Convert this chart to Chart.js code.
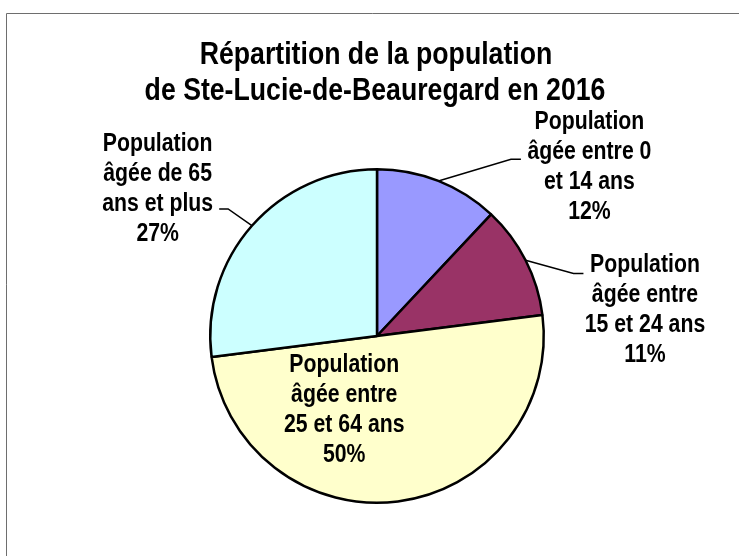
<!DOCTYPE html>
<html>
<head>
<meta charset="utf-8">
<script src="https://cdn.jsdelivr.net/npm/chart.js@4/dist/chart.umd.min.js"></script>
<style>
  html, body { margin: 0; padding: 0; background: #fff; }
  #wrap { width: 739px; height: 556px; position: relative; }
</style>
</head>
<body>
<div id="wrap"><canvas id="c" width="739" height="556"></canvas></div>
<script>
// ---- data ----
const titleLines = ["Répartition de la population", "de Ste-Lucie-de-Beauregard en 2016"];
const categories = [
  ["Population", "âgée entre 0", "et 14 ans"],
  ["Population", "âgée entre", "15 et 24 ans"],
  ["Population", "âgée entre", "25 et 64 ans"],
  ["Population", "âgée de 65", "ans et plus"]
];
const values = [12, 11, 50, 27];
const percentLabels = ["12%", "11%", "50%", "27%"];
const sliceColors = ["#9999FF", "#993366", "#FFFFCC", "#CCFFFF"];

// ---- label layout (offsets from pie centre, in pixels at radius 168) ----
const labelLayout = [
  { tx: 214, ty: -209, elbow: [135, -178], end: [145, -178] },
  { tx: 270, ty: -64,  elbow: [198, -63],  end: [208, -63] },
  { tx: -33, ty: 36,   elbow: null,        end: null },
  { tx: -221, ty: -186, elbow: [-150, -128], end: [-159, -128] }
];

const FONT = '"Liberation Sans", Arial, sans-serif';

function fillNarrow(ctx, text, x, y, sx) {
  ctx.save();
  ctx.translate(x, y);
  ctx.scale(sx, 1);
  ctx.fillText(text, 0, 0);
  ctx.restore();
}

const framePlugin = {
  id: 'frame',
  beforeDraw(chart) {
    const ctx = chart.ctx;
    ctx.save();
    ctx.strokeStyle = '#6e6e6e';
    ctx.lineWidth = 1;
    ctx.beginPath();
    ctx.moveTo(6.5, 556);
    ctx.lineTo(6.5, 13.5);
    ctx.lineTo(739, 13.5);
    ctx.stroke();
    ctx.restore();
  }
};

const textPlugin = {
  id: 'texts',
  afterDraw(chart) {
    const ctx = chart.ctx;
    const meta = chart.getDatasetMeta(0);
    ctx.save();
    ctx.fillStyle = '#000';
    ctx.textAlign = 'center';
    ctx.textBaseline = 'alphabetic';
    // title
    ctx.font = 'bold 31px ' + FONT;
    const tcx = meta.data[0].x;
    fillNarrow(ctx, titleLines[0], tcx - 1, 64, 0.86);
    fillNarrow(ctx, titleLines[1], tcx - 2, 100, 0.86);
    // labels
    ctx.font = 'bold 25px ' + FONT;
    meta.data.forEach((arc, i) => {
      const p = arc.getProps(['x', 'y', 'startAngle', 'endAngle', 'outerRadius'], true);
      const s = p.outerRadius / 168;
      const L = labelLayout[i];
      const lines = categories[i].concat([percentLabels[i]]);
      const cx = p.x + L.tx * s;
      const by = p.y + L.ty * s;
      lines.forEach((ln, k) => fillNarrow(ctx, ln, cx, by + k * 30, 0.85));
      if (L.elbow) {
        const mid = (p.startAngle + p.endAngle) / 2;
        const ex = p.x + Math.cos(mid) * p.outerRadius;
        const ey = p.y + Math.sin(mid) * p.outerRadius;
        ctx.strokeStyle = '#000';
        ctx.lineWidth = 1.5;
        ctx.beginPath();
        ctx.moveTo(ex, ey);
        ctx.lineTo(p.x + L.elbow[0] * s, p.y + L.elbow[1] * s);
        ctx.lineTo(p.x + L.end[0] * s, p.y + L.end[1] * s);
        ctx.stroke();
      }
    });
    ctx.restore();
  }
};

new Chart(document.getElementById('c'), {
  type: 'pie',
  data: {
    labels: categories.map(c => c.join(' ')),
    datasets: [{
      data: values,
      backgroundColor: sliceColors,
      borderColor: '#000',
      borderWidth: 2.5,
      hoverOffset: 0
    }]
  },
  options: {
    responsive: false,
    animation: false,
    devicePixelRatio: 1,
    rotation: 0,
    layout: { padding: { top: 168, bottom: 52, left: 40, right: 25 } },
    plugins: {
      legend: { display: false },
      title: { display: false },
      tooltip: { enabled: false }
    }
  },
  plugins: [framePlugin, textPlugin]
});
</script>
</body>
</html>
